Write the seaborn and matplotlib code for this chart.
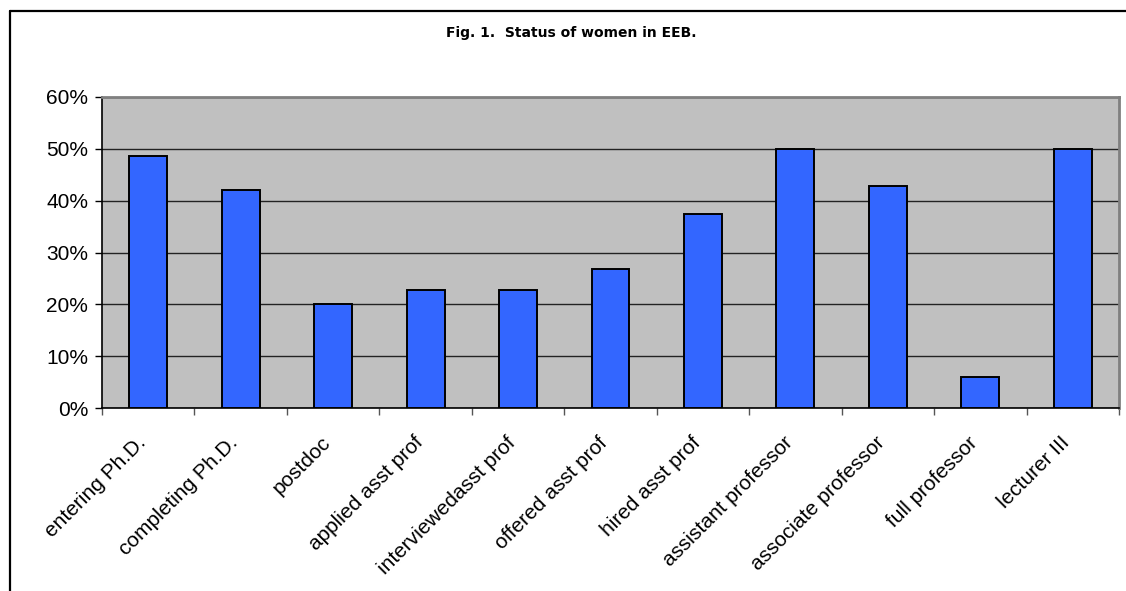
import matplotlib
matplotlib.use("Agg")
import matplotlib.pyplot as plt
import matplotlib.transforms as mtransforms
from matplotlib.lines import Line2D
from matplotlib.ticker import FixedLocator, PercentFormatter
import seaborn as sns
import pandas as pd

categories = ["entering Ph.D.", "completing Ph.D.", "postdoc", "applied asst prof",
              "interviewedasst prof", "offered asst prof", "hired asst prof",
              "assistant professor", "associate professor", "full professor", "lecturer III"]
women_pct = [48.7, 42.0, 20.0, 22.8, 22.8, 26.9, 37.4, 50.0, 42.9, 5.9, 50.0]
y_ticks = [0, 10, 20, 30, 40, 50, 60]

df = pd.DataFrame({"category": categories, "pct": women_pct})

sns.set_style("white")
plt.rcParams["font.family"] = ["Liberation Sans", "DejaVu Sans"]
plt.rcParams["text.color"] = "black"
plt.rcParams["xtick.labelcolor"] = "black"
plt.rcParams["ytick.labelcolor"] = "black"

fig = plt.figure(figsize=(11.26, 5.91), dpi=100)
ax = fig.add_axes([0.0906, 0.3096, 0.9032, 0.5263])
ax.set_facecolor("#C0C0C0")

sns.barplot(data=df, x="category", y="pct", color="#3366FF", saturation=1,
            width=0.41, edgecolor="black", linewidth=1.4, ax=ax, zorder=3)

ax.set_ylim(0, 60)
ax.set_xlim(-0.5, len(categories) - 0.5)
ax.set_yticks(y_ticks)
ax.yaxis.set_major_formatter(PercentFormatter(decimals=0))
ax.grid(axis="y", color="#222222", linewidth=1, zorder=1)
ax.set_axisbelow(True)

# category boundary tick marks on x
ax.set_xticks(range(len(categories)))
ax.xaxis.set_minor_locator(FixedLocator([i - 0.5 for i in range(len(categories) + 1)]))
ax.tick_params(axis="x", which="major", bottom=True, length=0, pad=14, labelcolor="black")
ax.tick_params(axis="x", which="minor", bottom=True, length=5, width=1,
               color="#555555", direction="out")
ax.tick_params(axis="y", left=True, length=5, width=1, color="black",
               direction="out", labelsize=15, pad=5, labelcolor="black")
ax.set_xticklabels(categories, rotation=45, ha="right", va="top",
                   rotation_mode="anchor", fontsize=15)
shift = mtransforms.ScaledTranslation(-9 / 72, -4 / 72, fig.dpi_scale_trans)
for lbl in ax.get_xticklabels():
    lbl.set_transform(lbl.get_transform() + shift)
ax.set_xlabel("")
ax.set_ylabel("")

for side in ["top", "right"]:
    ax.spines[side].set_color("#808080")
    ax.spines[side].set_linewidth(2)
for side in ["left", "bottom"]:
    ax.spines[side].set_color("black")
    ax.spines[side].set_linewidth(1.2)

fig.text(0.507, 0.945, "Fig. 1.  Status of women in EEB.", ha="center", va="center",
         fontsize=10, fontweight="bold", family="DejaVu Sans", color="black")

# chart frame (top and left edges)
fig.add_artist(Line2D([0.0089, 1.0], [0.981, 0.981], color="black", linewidth=1.6,
                      transform=fig.transFigure))
fig.add_artist(Line2D([0.0089, 0.0089], [0.0, 0.981], color="black", linewidth=1.6,
                      transform=fig.transFigure))

fig.savefig("out.png", dpi=100)
